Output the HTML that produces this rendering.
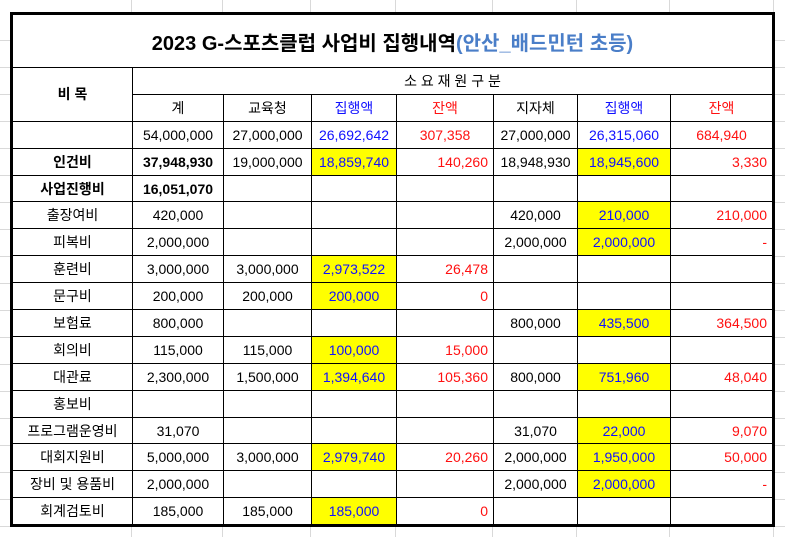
<!DOCTYPE html>
<html><head><meta charset="utf-8"><style>
html,body{margin:0;padding:0}
body{width:785px;height:537px;position:relative;overflow:hidden;background:#fff;}
.h{position:absolute;left:0;width:785px;height:1px;background:#d9d9d9}
.v{position:absolute;top:0;height:537px;width:1px;background:#d9d9d9}
table{position:absolute;left:10px;top:12px;border-collapse:collapse;table-layout:fixed;background:#fff;border:3px solid #000;
font-family:"Liberation Sans","Noto Sans CJK KR",sans-serif;font-size:14px;color:#000}
td{border:1px solid #000;height:25.9px;padding:0 5px;text-align:center;white-space:nowrap;overflow:hidden}
td.r{text-align:right}
.t{height:52px;font-size:20px;font-weight:bold;letter-spacing:0}
.t span{color:#4a7ec8}
.b{font-weight:bold}
.bl{color:#1010ff}
.rd{color:#ff1010}
.y{background:#ffff00}
</style></head><body>
<div class="h" style="top:40px"></div><div class="h" style="top:67px"></div><div class="h" style="top:94px"></div><div class="h" style="top:121px"></div><div class="h" style="top:148px"></div><div class="h" style="top:175px"></div><div class="h" style="top:202px"></div><div class="h" style="top:229px"></div><div class="h" style="top:256px"></div><div class="h" style="top:283px"></div><div class="h" style="top:310px"></div><div class="h" style="top:337px"></div><div class="h" style="top:364px"></div><div class="h" style="top:391px"></div><div class="h" style="top:418px"></div><div class="h" style="top:445px"></div><div class="h" style="top:472px"></div><div class="h" style="top:499px"></div><div class="h" style="top:526px"></div>
<div class="v" style="left:131px"></div><div class="v" style="left:222px"></div><div class="v" style="left:310px"></div><div class="v" style="left:395px"></div><div class="v" style="left:492px"></div><div class="v" style="left:576px"></div><div class="v" style="left:669px"></div><div class="v" style="left:773px"></div>
<table>
<colgroup><col style="width:121px"><col style="width:91px"><col style="width:88px"><col style="width:85px"><col style="width:97px"><col style="width:84px"><col style="width:93px"><col style="width:103px"></colgroup>
<tr><td colspan="8" class="t">2023 G-스포츠클럽 사업비 집행내역<span>(안산_배드민턴 초등)</span></td></tr>
<tr><td rowspan="2" class="b">비 목</td><td colspan="7">소 요 재 원 구 분</td></tr>
<tr><td>계</td><td>교육청</td><td class="bl">집행액</td><td class="rd">잔액</td><td>지자체</td><td class="bl">집행액</td><td class="rd">잔액</td></tr>
<tr><td></td><td>54,000,000</td><td>27,000,000</td><td class="bl">26,692,642</td><td class="rd">307,358</td><td>27,000,000</td><td class="bl">26,315,060</td><td class="rd">684,940</td></tr>
<tr><td class="b">인건비</td><td class="b">37,948,930</td><td>19,000,000</td><td class="bl y">18,859,740</td><td class="rd r">140,260</td><td>18,948,930</td><td class="bl y">18,945,600</td><td class="rd r">3,330</td></tr>
<tr><td class="b">사업진행비</td><td class="b">16,051,070</td><td></td><td></td><td></td><td></td><td></td><td></td></tr>
<tr><td>출장여비</td><td>420,000</td><td></td><td></td><td></td><td>420,000</td><td class="bl y">210,000</td><td class="rd r">210,000</td></tr>
<tr><td>피복비</td><td>2,000,000</td><td></td><td></td><td></td><td>2,000,000</td><td class="bl y">2,000,000</td><td class="rd r">-</td></tr>
<tr><td>훈련비</td><td>3,000,000</td><td>3,000,000</td><td class="bl y">2,973,522</td><td class="rd r">26,478</td><td></td><td></td><td></td></tr>
<tr><td>문구비</td><td>200,000</td><td>200,000</td><td class="bl y">200,000</td><td class="rd r">0</td><td></td><td></td><td></td></tr>
<tr><td>보험료</td><td>800,000</td><td></td><td></td><td></td><td>800,000</td><td class="bl y">435,500</td><td class="rd r">364,500</td></tr>
<tr><td>회의비</td><td>115,000</td><td>115,000</td><td class="bl y">100,000</td><td class="rd r">15,000</td><td></td><td></td><td></td></tr>
<tr><td>대관료</td><td>2,300,000</td><td>1,500,000</td><td class="bl y">1,394,640</td><td class="rd r">105,360</td><td>800,000</td><td class="bl y">751,960</td><td class="rd r">48,040</td></tr>
<tr><td>홍보비</td><td></td><td></td><td></td><td></td><td></td><td></td><td></td></tr>
<tr><td>프로그램운영비</td><td>31,070</td><td></td><td></td><td></td><td>31,070</td><td class="bl y">22,000</td><td class="rd r">9,070</td></tr>
<tr><td>대회지원비</td><td>5,000,000</td><td>3,000,000</td><td class="bl y">2,979,740</td><td class="rd r">20,260</td><td>2,000,000</td><td class="bl y">1,950,000</td><td class="rd r">50,000</td></tr>
<tr><td>장비 및 용품비</td><td>2,000,000</td><td></td><td></td><td></td><td>2,000,000</td><td class="bl y">2,000,000</td><td class="rd r">-</td></tr>
<tr><td>회계검토비</td><td>185,000</td><td>185,000</td><td class="bl y">185,000</td><td class="rd r">0</td><td></td><td></td><td></td></tr>
</table>
</body></html>
